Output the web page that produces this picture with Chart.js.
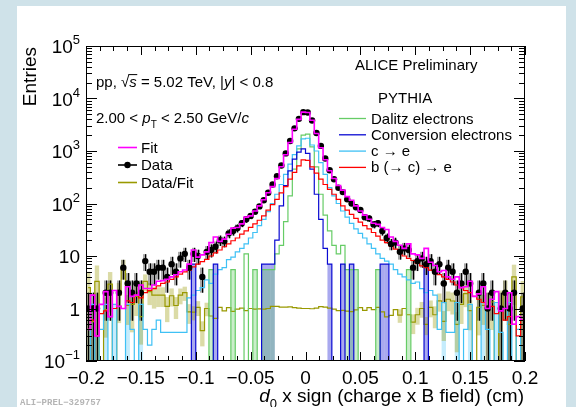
<!DOCTYPE html>
<html>
<head>
<meta charset="utf-8">
<script src="https://cdn.jsdelivr.net/npm/chart.js@4.4.0/dist/chart.umd.min.js"></script>
<style>
  html, body { margin: 0; padding: 0; }
  body { width: 576px; height: 407px; background: #cfe2e9; position: relative; overflow: hidden; }
  #panel { position: absolute; left: 17px; top: 6px; width: 549px; height: 401px; background: #fff; }
  #chart { position: absolute; left: 0; top: 0; }
</style>
</head>
<body>
<div id="panel"></div>
<canvas id="chart" width="576" height="407"></canvas>
<script>
// Binning of the d0 histograms (100 bins from -0.2 to 0.2 cm)
const binLow = -0.2;
const binWidth = 0.004;
const nBins = 100;
const binCenters = Array.from({ length: nBins }, (_, i) => +(binLow + binWidth * (i + 0.5)).toFixed(4));

// Measured data (entries per bin)
const dataCounts = [
  1, 1, 1, 0, 2, 2, 0, 2, 6, 3,
  2, 3, 2, 8, 5, 5, 6, 6, 4, 7,
  5, 9, 11, 6, 11, 10, 4, 12, 13, 15,
  20, 19, 27, 30, 34, 42, 50, 58, 70, 88,
  115, 160, 230, 330, 530, 900, 1550, 2700, 4100, 5500,
  5400, 3800, 2200, 1250, 720, 430, 290, 200, 165, 120,
  100, 85, 75, 55, 52, 40, 42, 30, 22, 17,
  18, 12, 14, 13, 6, 8, 9, 7, 8, 5,
  7, 3, 6, 5, 2, 3, 5, 3, 0, 2,
  3, 1, 2, 0, 1, 2, 1, 2, 0, 1
];

// Template fit result
const fitValues = [
  0.4, 1.8, 0.3, 1.2, 2.1, 0.7, 2.2, 1.1, 1.0, 2.6,
  1.7, 1.8, 2.8, 2.4, 2.4, 2.8, 3.3, 3.4, 3.6, 4.0,
  4.4, 5.0, 5.4, 7.0, 13, 9.5, 10.5, 12, 18, 23,
  19, 21, 26, 34, 35, 41, 55, 58, 72, 90,
  118, 160, 210, 300, 500, 850, 1450, 2600, 4000, 5500,
  5400, 3850, 2150, 1150, 680, 420, 300, 220, 180, 135,
  115, 90, 72, 60, 50, 42, 40, 35, 32, 23,
  19, 16, 14, 17, 11, 10.5, 9, 14, 7.6, 6.6,
  5, 5.3, 4, 3.6, 4, 2.5, 2.6, 3.3, 1.7, 1.9,
  2.6, 1.0, 1.5, 2.1, 0.9, 1.0, 2.0, 0.5, 0.7, 0.6
];

// Data / Fit
const ratioValues = [
  2.5, 0.56, 3.3, 0, 0.95, 2.9, 0, 1.8, 6.0, 1.15,
  1.2, 1.7, 0.7, 3.3, 2.1, 1.8, 1.8, 1.8, 1.1, 1.75,
  1.14, 1.8, 2.0, 0.86, 0.85, 1.05, 0.38, 1.0, 0.72, 0.65,
  1.05, 0.9, 1.04, 0.88, 0.97, 1.02, 0.91, 1.0, 0.97, 0.98,
  0.97, 1.0, 1.1, 1.1, 1.06, 1.06, 1.07, 1.04, 1.02, 1.0,
  1.0, 0.99, 1.02, 1.09, 1.06, 1.02, 0.97, 0.91, 0.92, 0.89,
  0.87, 0.94, 1.04, 0.92, 1.04, 0.95, 1.05, 0.86, 0.69, 0.74,
  0.95, 0.75, 1.0, 0.76, 0.55, 0.76, 1.0, 0.5, 1.05, 0.76,
  1.4, 0.57, 1.5, 1.39, 0.5, 1.2, 1.92, 0.91, 0, 1.05,
  1.15, 1.0, 1.33, 0, 1.1, 2.0, 0.5, 4.0, 0, 1.67
];

// PYTHIA templates
const dalitzValues = [
  0, 0, 0, 0, 0, 0, 0, 0, 0, 0,
  0, 0, 0, 0, 0, 0, 0, 0, 0, 0,
  0, 0, 0, 0, 0, 0, 0, 0, 5.5, 0,
  0, 0, 0, 5.5, 0, 0, 11, 0, 5.5, 0,
  5.5, 5.5, 5.5, 11, 16, 45, 140, 450, 1100, 2000,
  2100, 1200, 500, 150, 60, 30, 16, 11, 16, 5.5,
  5.5, 5.5, 0, 0, 0, 0, 5.5, 0, 0, 0,
  0, 0, 0, 5.5, 0, 0, 0, 0, 0, 0,
  0, 0, 0, 0, 0, 0, 0, 0, 0, 0,
  0, 0, 0, 0, 0, 0, 0, 0, 0, 0
];

const conversionValues = [
  0, 0, 0, 0, 0, 0, 0, 0, 0, 0,
  0, 0, 0, 0, 0, 0, 0, 0, 0, 0,
  0, 0, 0, 0, 7, 0, 0, 0, 0, 7,
  0, 0, 0, 0, 0, 0, 0, 0, 0, 0,
  7, 7, 7, 20, 90, 220, 420, 700, 950, 1100,
  900, 450, 150, 50, 14, 7, 0, 0, 7, 0,
  7, 0, 0, 0, 0, 0, 0, 7, 7, 0,
  0, 0, 0, 0, 0, 0, 0, 7, 0, 0,
  0, 0, 0, 0, 0, 0, 0, 0, 0, 0,
  0, 0, 0, 0, 0, 0, 0, 0, 0, 0
];

const charmValues = [
  0, 1.2, 0, 0.4, 1.2, 0, 1.2, 0, 0, 1.2,
  0.4, 0, 1.2, 0.4, 0.2, 0.4, 0.6, 0.35, 0.35, 0.35,
  0.35, 0.35, 0.35, 1.6, 1.8, 2.2, 2.5, 3.5, 3.0, 4.5,
  5.5, 6.0, 8.5, 9.5, 12, 14, 17, 22, 28, 38,
  50, 70, 100, 150, 230, 360, 560, 850, 1250, 1700,
  1750, 1300, 1000, 600, 360, 200, 140, 100, 72, 55,
  42, 33, 27, 22, 17, 14, 11, 9, 8, 7,
  5.5, 4.5, 4, 3.5, 3, 3.2, 2.4, 2.0, 2.2, 1.8,
  0.4, 1.3, 0.35, 0.35, 1.3, 0, 0.4, 1.2, 0, 0,
  1.3, 0.4, 0, 1.3, 0.35, 0, 1.3, 0, 0.4, 0
];

const beautyValues = [
  0.4, 0.6, 0.3, 0.8, 0.9, 0.7, 1.0, 1.1, 1.0, 1.4,
  1.3, 1.8, 1.6, 2.0, 2.2, 2.4, 2.7, 3.0, 3.2, 3.6,
  4.0, 4.5, 5.0, 5.4, 6.2, 7.0, 7.8, 8.6, 10, 11.5,
  13, 15, 17, 19.5, 22, 26, 30, 35, 41, 48,
  58, 75, 95, 120, 160, 210, 290, 390, 520, 680,
  660, 500, 380, 290, 230, 185, 150, 120, 90, 75,
  62, 52, 44, 38, 33, 28, 24, 20, 18, 15.5,
  13.5, 11.5, 10, 9, 8.2, 7.2, 6.5, 6, 5.4, 4.8,
  4.4, 4, 3.6, 3.2, 2.8, 2.5, 2.2, 2.0, 1.7, 1.5,
  1.3, 1.0, 1.1, 0.8, 0.9, 0.6, 0.7, 0.5, 0.3, 0.6
];

// Axis ranges and tick labels
const xMin = -0.2, xMax = 0.2;
const yMin = 0.1, yMax = 1e5;
const xMajorTicks = [-0.2, -0.15, -0.1, -0.05, 0, 0.05, 0.1, 0.15, 0.2];
const xTickLabels = ['\u22120.2', '\u22120.15', '\u22120.1', '\u22120.05', '0', '0.05', '0.1', '0.15', '0.2'];
const yDecades = [-1, 0, 1, 2, 3, 4, 5];

const FONT = '"Liberation Sans", Arial, Helvetica, sans-serif';

const COLORS = {
  fit: '#ff00ff',
  data: '#000000',
  ratio: '#999900',
  dalitz: '#66cc66',
  conversion: '#0a0ad2',
  charm: '#3fc1f5',
  beauty: '#ff0000'
};

// zero bins sit on the bottom of the log axis, like ROOT does
function hist(vals) {
  return vals.map((v, i) => ({ x: binCenters[i], y: v > 0 ? v : yMin }));
}

function drawParts(ctx, x, y, parts, size, align) {
  const small = Math.round(size * 0.68);
  const fontOf = p => (p.it ? 'italic ' : '') + ((p.sub || p.sup) ? small : size) + 'px ' + FONT;
  let total = 0;
  parts.forEach(p => { ctx.font = fontOf(p); p.w = ctx.measureText(p.t).width; total += p.w; });
  let cx = align === 'right' ? x - total : align === 'center' ? x - total / 2 : x;
  ctx.textAlign = 'left';
  ctx.textBaseline = 'alphabetic';
  parts.forEach(p => {
    ctx.font = fontOf(p);
    let dy = 0;
    if (p.sub) dy = size * 0.3;
    if (p.sup) dy = -size * 0.45;
    ctx.fillText(p.t, cx, y + dy);
    if (p.over) ctx.fillRect(cx - 1, y - size * 0.86, p.w + 1.5, 1);
    cx += p.w;
  });
  return total;
}

// translucent error boxes, one bin wide
function binBox(ctx, xs, ys, a, i, lo, hi, color) {
  const x0 = xs.getPixelForValue(binCenters[i] - binWidth / 2);
  const x1 = xs.getPixelForValue(binCenters[i] + binWidth / 2);
  const top = ys.getPixelForValue(hi);
  const bot = lo > yMin ? ys.getPixelForValue(lo) : a.bottom;
  ctx.fillStyle = color;
  ctx.fillRect(x0, top, x1 - x0, bot - top);
}

const rootStyle = {
  id: 'rootStyle',
  beforeDatasetsDraw(chart) {
    const { ctx, chartArea: a } = chart;
    const xs = chart.scales.x, ys = chart.scales.y;
    ctx.save();
    ctx.beginPath();
    ctx.rect(a.left, a.top, a.right - a.left, a.bottom - a.top);
    ctx.clip();

    // low-statistics template bins
    conversionValues.forEach((v, i) => { if (v > 0 && v <= 7) binBox(ctx, xs, ys, a, i, 0, v, 'rgba(10,10,210,0.35)'); });
    dalitzValues.forEach((v, i) => { if (v > 0 && v <= 5.5) binBox(ctx, xs, ys, a, i, 0, v, 'rgba(102,204,102,0.35)'); });
    charmValues.forEach((v, i) => { if (v >= 1.2 && v <= 1.3) binBox(ctx, xs, ys, a, i, 0, v, 'rgba(63,193,245,0.3)'); });

    // ratio uncertainty in the tails
    ratioValues.forEach((r, i) => {
      const n = dataCounts[i];
      if (!(r > 0) || n <= 0 || n > 12) return;
      const e = r / Math.sqrt(n);
      binBox(ctx, xs, ys, a, i, r - e, r + e, 'rgba(153,153,0,0.35)');
    });

    // data error bars (Poisson) with grey boxes
    dataCounts.forEach((n, i) => {
      if (!n) return;
      const px = Math.round(xs.getPixelForValue(binCenters[i]));
      const err = Math.sqrt(n);
      const top = ys.getPixelForValue(n + err);
      const lo = n - err;
      const bot = lo > yMin ? ys.getPixelForValue(lo) : a.bottom;
      ctx.fillStyle = 'rgba(60,60,60,0.45)';
      ctx.fillRect(px - 2, top, 4, bot - top);
      ctx.fillStyle = '#000';
      ctx.fillRect(px, top, 1, bot - top);
    });
    ctx.restore();
  },
  afterDraw(chart) {
    const { ctx, chartArea: a } = chart;
    const xs = chart.scales.x, ys = chart.scales.y;
    ctx.save();
    ctx.fillStyle = '#000';
    ctx.strokeStyle = '#000';
    ctx.lineWidth = 1;

    // frame
    ctx.strokeRect(a.left + 0.5, a.top + 0.5, a.right - a.left - 1, a.bottom - a.top - 1);

    // x ticks, inside, bottom and top
    ctx.beginPath();
    for (let k = 0; k <= 32; k++) {
      const v = xMin + k * 0.0125;
      const px = Math.round(xs.getPixelForValue(v)) + 0.5;
      const len = k % 4 === 0 ? 9 : 5;
      ctx.moveTo(px, a.bottom); ctx.lineTo(px, a.bottom - len);
      ctx.moveTo(px, a.top); ctx.lineTo(px, a.top + len);
    }
    // y ticks, log, left and right
    for (let d = -1; d <= 4; d++) {
      for (let m = 1; m <= 9; m++) {
        const v = m * Math.pow(10, d);
        const py = Math.round(ys.getPixelForValue(v)) + 0.5;
        const len = m === 1 ? 11 : 6;
        ctx.moveTo(a.left, py); ctx.lineTo(a.left + len, py);
        ctx.moveTo(a.right, py); ctx.lineTo(a.right - len, py);
      }
    }
    ctx.stroke();

    // x tick labels
    ctx.font = '19px ' + FONT;
    ctx.textAlign = 'center';
    ctx.textBaseline = 'alphabetic';
    xMajorTicks.forEach((v, k) => {
      ctx.fillText(xTickLabels[k], xs.getPixelForValue(v), 384);
    });

    // y tick labels
    yDecades.forEach(e => {
      const py = ys.getPixelForValue(Math.pow(10, e)) + 7;
      let parts;
      if (e === 0) parts = [{ t: '1' }];
      else if (e === 1) parts = [{ t: '10' }];
      else parts = [{ t: '10' }, { t: e < 0 ? '\u2212' + (-e) : String(e), sup: true }];
      drawParts(ctx, 80, py, parts, 19, 'right');
    });

    // axis titles
    drawParts(ctx, 524, 402, [{ t: 'd', it: true }, { t: '0', sub: true }, { t: ' x sign (charge x B field) (cm)' }], 19, 'right');
    ctx.save();
    ctx.translate(31, 47);
    ctx.rotate(-Math.PI / 2);
    ctx.font = '19px ' + FONT;
    ctx.textAlign = 'right';
    ctx.textBaseline = 'middle';
    ctx.fillText('Entries', 0, 0);
    ctx.restore();

    // labels inside the frame
    drawParts(ctx, 355, 70, [{ t: 'ALICE Preliminary' }], 15);
    drawParts(ctx, 96, 87, [
      { t: 'pp, \u221A' }, { t: 's', it: true, over: true }, { t: ' = 5.02 TeV, |' },
      { t: 'y', it: true }, { t: '| < 0.8' }
    ], 15);
    drawParts(ctx, 96, 123, [
      { t: '2.00 < ' }, { t: 'p', it: true }, { t: 'T', sub: true },
      { t: ' < 2.50 GeV/' }, { t: 'c', it: true }
    ], 15);
    drawParts(ctx, 378, 103, [{ t: 'PYTHIA' }], 15);

    // right legend (templates)
    const rightLegend = [
      ['Dalitz electrons', COLORS.dalitz],
      ['Conversion electrons', COLORS.conversion],
      ['c \u2192 e', COLORS.charm],
      ['b (\u2192 c) \u2192 e', COLORS.beauty]
    ];
    rightLegend.forEach(([label, color], k) => {
      const y = 118 + k * 16.3;
      ctx.strokeStyle = color;
      ctx.lineWidth = 1.3;
      ctx.beginPath(); ctx.moveTo(339, y + 0.5); ctx.lineTo(366, y + 0.5); ctx.stroke();
      ctx.fillStyle = '#000';
      drawParts(ctx, 371, y + 5.5, [{ t: label }], 15);
    });

    // left legend (fit, data, ratio)
    const leftLegend = [
      ['Fit', COLORS.fit],
      ['Data', COLORS.data],
      ['Data/Fit', COLORS.ratio]
    ];
    leftLegend.forEach(([label, color], k) => {
      const y = 147 + k * 17.5;
      ctx.strokeStyle = color;
      ctx.lineWidth = 1.6;
      ctx.beginPath(); ctx.moveTo(118, y + 0.5); ctx.lineTo(137, y + 0.5); ctx.stroke();
      if (label === 'Data') {
        ctx.fillStyle = '#000';
        ctx.beginPath(); ctx.arc(127.5, y + 0.5, 3.2, 0, Math.PI * 2); ctx.fill();
      }
      ctx.fillStyle = '#000';
      drawParts(ctx, 141, y + 5.5, [{ t: label }], 15);
    });

    // plot id
    ctx.font = 'bold 9px "Liberation Mono", "DejaVu Sans Mono", monospace';
    ctx.fillStyle = '#b5b5b5';
    ctx.textAlign = 'left';
    ctx.textBaseline = 'alphabetic';
    ctx.fillText('ALI\u2212PREL\u2212329757', 20, 405);
    ctx.restore();
  }
};

function histSet(label, vals, color, order, width) {
  return {
    label: label,
    data: hist(vals),
    borderColor: color,
    borderWidth: width || 1.2,
    stepped: 'middle',
    pointRadius: 0,
    fill: false,
    order: order
  };
}

new Chart(document.getElementById('chart'), {
  type: 'line',
  data: {
    datasets: [
      histSet('Fit', fitValues, COLORS.fit, 0, 1.6),
      {
        label: 'Data',
        data: dataCounts.map((v, i) => ({ x: binCenters[i], y: v > 0 ? v : null })),
        showLine: false,
        pointRadius: 3.2,
        pointBackgroundColor: COLORS.data,
        pointBorderColor: COLORS.data,
        pointBorderWidth: 0,
        order: 1
      },
      histSet('b (\u2192 c) \u2192 e', beautyValues, COLORS.beauty, 2),
      histSet('Conversion electrons', conversionValues, COLORS.conversion, 3),
      histSet('c \u2192 e', charmValues, COLORS.charm, 4),
      histSet('Dalitz electrons', dalitzValues, COLORS.dalitz, 5),
      histSet('Data/Fit', ratioValues, COLORS.ratio, 6)
    ]
  },
  options: {
    responsive: false,
    animation: false,
    devicePixelRatio: 1,
    layout: { padding: { left: 86, right: 51, top: 46, bottom: 46 } },
    plugins: { legend: { display: false }, tooltip: { enabled: false } },
    scales: {
      x: { type: 'linear', min: xMin, max: xMax, display: false },
      y: { type: 'logarithmic', min: yMin, max: yMax, display: false }
    }
  },
  plugins: [rootStyle]
});
</script>
</body>
</html>
